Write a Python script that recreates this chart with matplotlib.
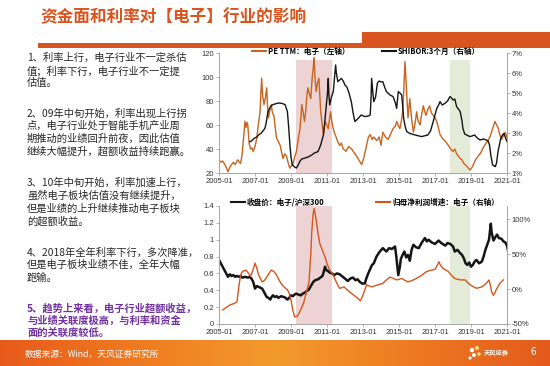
import numpy as np
import matplotlib
matplotlib.use("Agg")
import matplotlib.pyplot as plt
from matplotlib.patches import Rectangle, Circle
from matplotlib.colors import LinearSegmentedColormap

plt.rcParams['font.family'] = ['Noto Sans CJK SC', 'DejaVu Sans']

# ---------------- data ----------------
pe_t = [2005.0, 2005.1, 2005.2, 2005.33, 2005.42, 2005.5, 2005.6, 2005.7, 2005.8, 2005.9, 2006.0, 2006.05, 2006.12, 2006.2,
        2006.28, 2006.33, 2006.4, 2006.44, 2006.5, 2006.55, 2006.6, 2006.67, 2006.75, 2006.83, 2006.9, 2007.0, 2007.1,
        2007.18, 2007.28, 2007.33, 2007.37, 2007.42, 2007.5, 2007.57, 2007.65, 2007.7, 2007.75, 2007.82, 2007.9, 2007.97,
        2008.05, 2008.12, 2008.2, 2008.3, 2008.4, 2008.48, 2008.56, 2008.65, 2008.75, 2008.85, 2008.94, 2009.02, 2009.1,
        2009.2, 2009.3, 2009.4, 2009.5, 2009.55, 2009.6, 2009.68, 2009.75, 2009.82, 2009.88, 2009.94, 2010.02, 2010.1,
        2010.18, 2010.24, 2010.28, 2010.34, 2010.4, 2010.47, 2010.55, 2010.6, 2010.65, 2010.72, 2010.8, 2010.85, 2010.9,
        2010.98, 2011.07, 2011.13, 2011.2, 2011.25, 2011.3, 2011.4, 2011.53, 2011.6, 2011.7, 2011.8, 2011.9, 2012.0,
        2012.05, 2012.2, 2012.37, 2012.5, 2012.65, 2012.8, 2012.93, 2013.05, 2013.2, 2013.3, 2013.4, 2013.5, 2013.6,
        2013.76, 2013.9, 2014.0, 2014.1, 2014.25, 2014.4, 2014.55, 2014.67, 2014.8, 2014.87, 2014.95, 2015.05, 2015.15,
        2015.2, 2015.27, 2015.33, 2015.38, 2015.43, 2015.5, 2015.55, 2015.6, 2015.7, 2015.8, 2015.9, 2015.98, 2016.05,
        2016.17, 2016.25, 2016.35, 2016.45, 2016.5, 2016.6, 2016.7, 2016.8, 2016.9, 2017.0, 2017.1, 2017.2, 2017.28,
        2017.37, 2017.46, 2017.6, 2017.74, 2017.87, 2018.0, 2018.1, 2018.2, 2018.3, 2018.4, 2018.5, 2018.6, 2018.67,
        2018.8, 2018.94, 2019.03, 2019.13, 2019.25, 2019.4, 2019.55, 2019.67, 2019.8, 2019.94, 2020.05, 2020.1, 2020.2,
        2020.33, 2020.42, 2020.5, 2020.6, 2020.7, 2020.8, 2020.9, 2021.0, 2021.05]
pe_v = [31, 29, 30, 27, 24, 21, 25, 27, 29, 27, 30, 31, 29, 28,
        35, 43, 55, 63, 58, 62, 60, 45, 40, 41, 38, 42, 49,
        60, 71, 88, 99, 85, 77, 82, 91, 75, 66, 72, 77, 70,
        68, 58, 49, 46, 43, 37, 32, 36, 34, 28, 24, 26, 27,
        33, 38, 48, 57, 66, 77, 70, 63, 72, 84, 91, 86, 82,
        100, 108, 116, 98, 88, 95, 99, 85, 71, 62, 52, 58, 63,
        60, 57, 64, 71, 65, 60, 54, 49, 46, 43, 45, 40, 39,
        38, 42, 40, 37, 34, 30, 27, 33, 43, 50, 52, 48, 50,
        47, 50, 43, 54, 50, 48, 53, 57, 59, 63, 60, 57, 65,
        71, 90, 113, 100, 85, 66, 74, 82, 65, 54, 62, 71, 64,
        60, 68, 76, 70, 68, 73, 76, 70, 68, 66, 63, 57, 52,
        50, 48, 46, 43, 40, 38, 40, 36, 34, 32, 31, 28, 27,
        25, 22.5, 24, 27, 31, 34, 37, 41, 44, 47, 50, 52, 57,
        63, 60, 58, 52, 48, 51, 54, 50, 48]

shibor_t = [2006.72, 2006.8, 2006.95, 2007.1, 2007.2, 2007.35, 2007.55, 2007.62, 2007.72, 2007.85, 2007.95, 2008.1,
            2008.3, 2008.5, 2008.67, 2008.8, 2008.87, 2008.94, 2009.0, 2009.07, 2009.2, 2009.3, 2009.4, 2009.5, 2009.6,
            2009.78, 2009.95, 2010.15, 2010.3, 2010.5, 2010.65, 2010.8, 2010.88, 2010.98, 2011.02, 2011.07, 2011.1,
            2011.15, 2011.25, 2011.35, 2011.42, 2011.48, 2011.52, 2011.6, 2011.7, 2011.8, 2011.9, 2012.0, 2012.1,
            2012.2, 2012.35, 2012.45, 2012.55, 2012.7, 2012.9, 2013.1, 2013.3, 2013.4, 2013.45, 2013.48, 2013.55,
            2013.6, 2013.7, 2013.8, 2013.9, 2014.0, 2014.1, 2014.2, 2014.3, 2014.5, 2014.67, 2014.8, 2014.87, 2014.92,
            2014.96, 2015.05, 2015.15, 2015.2, 2015.26, 2015.35, 2015.43, 2015.6, 2015.9, 2016.25, 2016.6, 2016.75,
            2016.9, 2017.0, 2017.1, 2017.2, 2017.28, 2017.4, 2017.55, 2017.7, 2017.83, 2017.92, 2018.0, 2018.1,
            2018.2, 2018.3, 2018.4, 2018.5, 2018.55, 2018.65, 2018.76, 2018.94, 2019.05, 2019.2, 2019.35, 2019.5,
            2019.7, 2019.85, 2019.95, 2020.03, 2020.1, 2020.2, 2020.3, 2020.35, 2020.42, 2020.5, 2020.6, 2020.65,
            2020.75, 2020.83, 2020.9, 2021.0, 2021.05]
shibor_v = [2.57, 2.6, 2.73, 2.8, 2.9, 3.0, 3.23, 3.5, 4.07, 4.3, 4.4, 4.45,
            4.5, 4.48, 4.42, 4.07, 3.3, 2.4, 1.8, 1.4, 1.3, 1.25, 1.4, 1.6, 1.7,
            1.75, 1.8, 1.9, 2.0, 2.07, 2.4, 2.9, 3.6, 4.57, 4.9, 5.73, 5.0,
            4.4, 4.8, 5.07, 5.8, 6.4, 6.0, 5.57, 5.65, 5.73, 5.6, 5.4, 5.3,
            5.07, 4.57, 4.0, 3.57, 3.7, 3.9, 3.82, 3.85, 3.9, 4.8, 5.73, 5.0,
            4.57, 4.8, 5.5, 5.6, 5.55, 5.57, 5.3, 5.07, 4.9, 4.82, 4.5, 4.23, 4.7,
            5.07, 5.0, 4.9, 4.4, 3.73, 3.3, 3.07, 2.98, 2.9, 2.82, 2.9, 3.1,
            3.57, 3.9, 4.23, 4.4, 4.57, 4.4, 4.48, 4.6, 4.82, 4.75, 4.65, 4.7,
            4.32, 4.2, 4.07, 3.6, 3.23, 2.95, 2.9, 2.82, 2.85, 2.9, 2.75, 2.65,
            2.7, 2.65, 2.6, 2.4, 1.9, 1.4, 1.35, 1.32, 1.5, 2.07, 2.5, 2.73,
            2.9, 2.98, 2.8, 2.57, 2.7]

ratio_t = [2005.0, 2005.1, 2005.2, 2005.3, 2005.4, 2005.5, 2005.6, 2005.7, 2005.8, 2005.9, 2006.0, 2006.1, 2006.2,
           2006.3, 2006.45, 2006.6, 2006.7, 2006.8, 2006.9, 2007.0, 2007.1, 2007.2, 2007.3, 2007.4, 2007.5, 2007.65,
           2007.75, 2007.85, 2007.92, 2008.0, 2008.1, 2008.2, 2008.3, 2008.45, 2008.6, 2008.7, 2008.8, 2008.9, 2009.0,
           2009.1, 2009.2, 2009.28, 2009.4, 2009.55, 2009.65, 2009.75, 2009.88, 2010.0, 2010.1, 2010.24, 2010.35,
           2010.5, 2010.62, 2010.75, 2010.82, 2010.89, 2010.95, 2011.05, 2011.15, 2011.28, 2011.4, 2011.55, 2011.7,
           2011.82, 2011.95, 2012.05, 2012.15, 2012.3, 2012.45, 2012.58, 2012.7, 2012.82, 2012.95, 2013.1, 2013.2,
           2013.35, 2013.5, 2013.6, 2013.75, 2013.9, 2014.1, 2014.2, 2014.3, 2014.45, 2014.6, 2014.78, 2014.85,
           2014.96, 2015.05, 2015.1, 2015.2, 2015.3, 2015.4, 2015.5, 2015.6, 2015.7, 2015.8, 2015.95, 2016.1, 2016.25,
           2016.44, 2016.55, 2016.65, 2016.8, 2017.0, 2017.2, 2017.35, 2017.57, 2017.7, 2017.85, 2018.0, 2018.1,
           2018.25, 2018.4, 2018.5, 2018.6, 2018.7, 2018.8, 2018.9, 2019.0, 2019.1, 2019.2, 2019.3, 2019.45, 2019.6,
           2019.7, 2019.8, 2019.9, 2020.0, 2020.06, 2020.1, 2020.15, 2020.25, 2020.35, 2020.45, 2020.55, 2020.7,
           2020.8, 2020.9, 2021.0, 2021.05]
ratio_v = [0.76, 0.72, 0.68, 0.64, 0.6, 0.56, 0.59, 0.57, 0.58, 0.56, 0.57, 0.56, 0.57,
           0.55, 0.56, 0.55, 0.56, 0.54, 0.5, 0.42, 0.45, 0.44, 0.43, 0.42, 0.38, 0.32,
           0.31, 0.29, 0.32, 0.34, 0.32, 0.33, 0.31, 0.33, 0.32, 0.31, 0.29, 0.31, 0.34,
           0.33, 0.35, 0.36, 0.35, 0.34, 0.36, 0.37, 0.39, 0.41, 0.45, 0.50, 0.52,
           0.53, 0.55, 0.57, 0.62, 0.68, 0.64, 0.63, 0.61, 0.6, 0.58, 0.6, 0.59,
           0.57, 0.55, 0.53, 0.51, 0.54, 0.55, 0.52, 0.53, 0.5, 0.48, 0.48, 0.55,
           0.63, 0.70, 0.72, 0.8, 0.85, 0.90, 0.88, 0.86, 0.9, 0.89, 0.92, 0.8,
           0.58, 0.68, 0.77, 0.82, 0.86, 0.79, 0.82, 0.75, 0.88, 0.94, 0.91, 0.90, 0.96,
           1.02, 0.98, 1.0, 0.97, 0.95, 0.99, 0.96, 0.93, 0.96, 0.95, 0.92, 0.86,
           0.88, 0.84, 0.82, 0.78, 0.72, 0.70, 0.73, 0.68, 0.7, 0.74, 0.76, 0.72, 0.74,
           0.8, 0.88, 0.94, 1.0, 1.12, 1.19, 1.08, 0.99, 1.03, 1.06, 1.02, 1.01,
           0.98, 0.97, 0.93, 0.88]

growth_t = [2005.2, 2005.6, 2005.9, 2006.0, 2006.1, 2006.2, 2006.3, 2006.5, 2006.65, 2006.75, 2006.9, 2007.0, 2007.1,
            2007.2, 2007.4, 2007.55, 2007.7, 2007.9, 2008.05, 2008.2, 2008.35, 2008.5, 2008.65, 2008.8, 2008.9, 2009.0,
            2009.1, 2009.2, 2009.35, 2009.5, 2009.7, 2009.85, 2010.0, 2010.1, 2010.15, 2010.22, 2010.28, 2010.34,
            2010.4, 2010.5, 2010.6, 2010.75, 2010.89, 2011.0, 2011.15, 2011.3, 2011.4, 2011.55, 2011.7, 2011.85,
            2011.95, 2012.15, 2012.35, 2012.55, 2012.7, 2012.85, 2012.95, 2013.05, 2013.2, 2013.48, 2013.7, 2013.85,
            2014.1, 2014.3, 2014.5, 2014.7, 2014.87, 2015.15, 2015.5, 2015.8, 2016.17, 2016.54, 2016.8, 2017.0,
            2017.15, 2017.22, 2017.3, 2017.46, 2017.74, 2017.9, 2018.1, 2018.4, 2018.67, 2018.94, 2019.3, 2019.6,
            2019.85, 2020.0, 2020.08, 2020.15, 2020.24, 2020.32, 2020.4, 2020.6, 2020.8]
growth_v = [-30, -23, -20, -18, 3, 20, 25, 27, 22, 18, 28, 37, 30,
            20, 10, 13, 19, 27, 25, 20, 12, 6, 2, -1, -6, -16,
            -30, -40, -39, -32, -20, -5, 10, 50, 80, 105, 115, 108,
            98, 80, 65, 55, 46, 36, 27, 22, 17, 8, 1, 2,
            3, -2, -6, -10, -13, -17, -12, -5, 6, 3, 5, 6,
            8, 13, 17, 15, 13, 15, 10, 13, 18, 25, 27, 28,
            35, 39, 34, 29, 25, 20, 15, 13, 13, 6, 1, 3,
            8, 13, 5, -4, -9, -6, -1, 8, 13]

# shaded periods (decimal years)
pink_period = (2009.3, 2011.3)
green_period = (2017.83, 2018.95)

xtick_years = [2005, 2007, 2009, 2011, 2013, 2015, 2017, 2019, 2021]
xtick_labels = ["2005-01", "2007-01", "2009-01", "2011-01", "2013-01", "2015-01", "2017-01", "2019-01", "2021-01"]

title = "资金面和利率对【电子】行业的影响"
paragraphs = [
    ["1、利率上行，电子行业不一定杀估", "值；利率下行，电子行业不一定提", "估值。"],
    ["2、09年中旬开始，利率出现上行拐", "点，电子行业处于智能手机产业周", "期推动的业绩回升前夜，因此估值", "继续大幅提升，超额收益持续跑赢。"],
    ["3、10年中旬开始，利率加速上行，", "虽然电子板块估值没有继续提升，", "但是业绩的上升继续推动电子板块", "的超额收益。"],
    ["4、2018年全年利率下行，多次降准，", "但是电子板块业绩不佳，全年大幅", "跑输。"],
    ["5、趋势上来看，电子行业超额收益，", "与业绩关联度极高，与利率和资金", "面的关联度较低。"],
]
para_y = [[58, 71, 83], [113, 126, 139, 151], [183, 196, 209, 221], [253, 265, 278], [308, 321, 333]]
source = "数据来源：Wind，天风证券研究所"

# ---------------- styling ----------------
ORANGE = '#C8641E'
BLACK = '#151515'
TITLE_C = '#D9541E'
SPINE = '#A6A6A6'
W, H = 550, 366

fig = plt.figure(figsize=(5.5, 3.66), dpi=100)
fig.patch.set_facecolor('white')

bg = fig.add_axes([0, 0, 1, 1])
bg.set_xlim(0, W)
bg.set_ylim(H, 0)
bg.axis('off')

# title and bars
bg.text(40, 17, title, color=TITLE_C, fontsize=12, fontweight='bold', va='center', ha='left')
bg.add_patch(Rectangle((38, 43), 324, 5, color=TITLE_C, lw=0))
bg.add_patch(Rectangle((362, 32), 188, 16, color=TITLE_C, lw=0))

# left text
for i, (lines, ys) in enumerate(zip(paragraphs, para_y)):
    col = '#7030A0' if i == 4 else '#262626'
    wt = 'bold' if i == 4 else 'normal'
    for ln, y in zip(lines, ys):
        bg.text(27, y, ln, color=col, fontsize=7.4, va='center', ha='left', fontweight=wt)

# bottom banner gradient
cmap = LinearSegmentedColormap.from_list('ban', ['#E85A1A', '#F07A20', '#F39A2C', '#EE7A22', '#E35A1C'])
grad = np.linspace(0, 1, 256).reshape(1, -1)
bg.imshow(grad, extent=[0, W, H, 340], cmap=cmap, aspect='auto', zorder=0)
bg.set_xlim(0, W)
bg.set_ylim(H, 0)
bg.text(25, 354, source, color='white', fontsize=6.3, va='center', ha='left')
bg.text(533, 352, "6", color='white', fontsize=7, va='center', ha='center')
for (cx, cy, r, c) in [(472, 350, 2.2, '#FFFFFF'), (477, 348, 2.0, '#FFE27A'), (474, 355, 2.0, '#FFFFFF'),
                       (479, 354, 1.8, '#FFE27A'), (470, 358, 1.6, '#FFFFFF')]:
    bg.add_patch(Circle((cx, cy), r, color=c, lw=0))
bg.text(484, 352, "天风证券", color='white', fontsize=4.5, va='center', ha='left', fontweight='bold')

def px_rect(x0, y0, x1, y1):
    return [x0 / W, 1 - y1 / H, (x1 - x0) / W, (y1 - y0) / H]

def style_axes(ax, axr):
    for a in (ax, axr):
        a.set_facecolor('none')
        a.spines['top'].set_visible(False)
        for s in ('left', 'right', 'bottom'):
            a.spines[s].set_color(SPINE)
            a.spines[s].set_linewidth(0.7)
        a.tick_params(labelsize=5.5, colors='#333333', length=2, width=0.6, pad=1.5)
        a.tick_params(axis='both', color=SPINE)
    ax.set_xlim(2005, 2021)
    ax.set_xticks(xtick_years)
    ax.set_xticklabels(xtick_labels, fontfamily=['Liberation Sans', 'DejaVu Sans'])
    for lab in ax.get_yticklabels() + axr.get_yticklabels():
        lab.set_fontfamily(['Liberation Sans', 'DejaVu Sans'])

# ---------------- top chart ----------------
ax1 = fig.add_axes(px_rect(219, 53, 507, 173))
ax1r = ax1.twinx()
ax1.axvspan(*pink_period, ymax=0.94, color='#EDD3D3', lw=0, zorder=0)
ax1.axvspan(*green_period, ymax=0.94, color='#E4EBD9', lw=0, zorder=0)
l1, = ax1.plot(pe_t, pe_v, color=ORANGE, lw=1.0, zorder=2)
l2, = ax1r.plot(shibor_t, shibor_v, color=BLACK, lw=1.0, zorder=3)
ax1.set_ylim(20, 120)
ax1.set_yticks([20, 40, 60, 80, 100, 120])
ax1r.set_ylim(1, 7)
ax1r.set_yticks([1, 2, 3, 4, 5, 6, 7])
ax1r.set_yticklabels([f"{v}%" for v in range(1, 8)])
style_axes(ax1, ax1r)
h1 = [plt.Line2D([], [], color=ORANGE, lw=1.5), plt.Line2D([], [], color=BLACK, lw=1.5)]
fig.legend(h1, ["PE TTM：电子（左轴）", "SHIBOR:3个月（右轴）"], loc='center',
           bbox_to_anchor=(366 / W, 1 - 51 / H), ncol=2, frameon=False,
           prop={'size': 5.5, 'weight': 'bold'}, handlelength=1.8, columnspacing=4.3, handletextpad=0.25)

# ---------------- bottom chart ----------------
ax2 = fig.add_axes(px_rect(219, 206, 507, 324))
ax2r = ax2.twinx()
ax2.axvspan(*pink_period, color='#EDD3D3', lw=0, zorder=0)
ax2.axvspan(*green_period, color='#E4EBD9', lw=0, zorder=0)
l3, = ax2.plot(ratio_t, ratio_v, color=BLACK, lw=1.8, zorder=3)
l4, = ax2r.plot(growth_t, growth_v, color='#D2561E', lw=1.0, zorder=2)
ax2.set_ylim(0, 1.4)
ax2.set_yticks([0, 0.2, 0.4, 0.6, 0.8, 1.0, 1.2, 1.4])
ax2.set_yticklabels(["0", "0.2", "0.4", "0.6", "0.8", "1", "1.2", "1.4"])
ax2r.set_ylim(-50, 118.6)
ax2r.set_yticks([-50, 0, 50, 100])
ax2r.set_yticklabels(["-50%", "0%", "50%", "100%"])
style_axes(ax2, ax2r)
h2 = [plt.Line2D([], [], color=BLACK, lw=1.5), plt.Line2D([], [], color='#D2561E', lw=1.5)]
fig.legend(h2, ["收盘价：电子/沪深300", "归母净利润增速：电子（右轴）"], loc='center',
           bbox_to_anchor=(365 / W, 1 - 202 / H), ncol=2, frameon=False,
           prop={'size': 5.5, 'weight': 'bold'}, handlelength=1.8, columnspacing=6.8, handletextpad=0.25)

fig.savefig("out.png", dpi=100)
